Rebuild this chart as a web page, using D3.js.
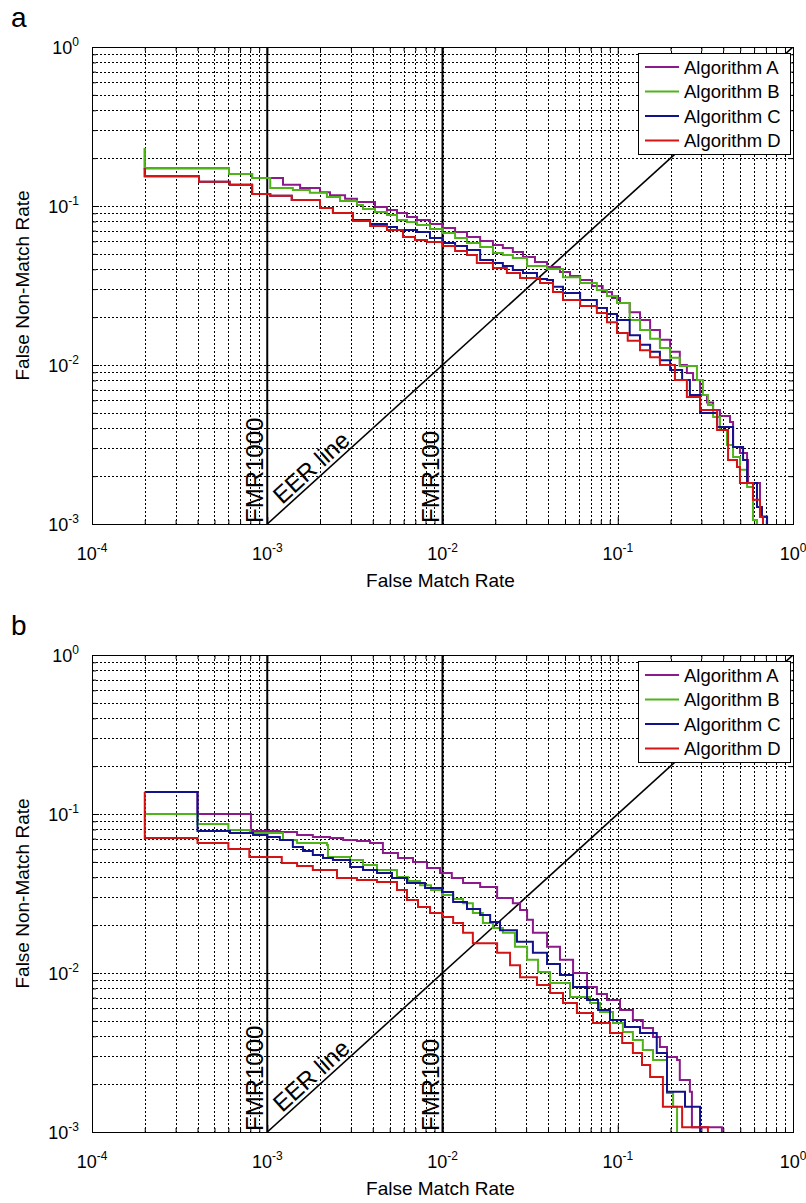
<!DOCTYPE html>
<html>
<head>
<meta charset="utf-8">
<script src="https://cdn.jsdelivr.net/npm/d3@7/dist/d3.min.js"></script>
<style>
  body { margin: 0; background: #fff; }
  svg text { font-family: Arial, "Liberation Sans", Helvetica, sans-serif; fill: #000; }
</style>
</head>
<body>
<svg id="chart" width="806" height="1203"></svg>
<script>
// ---- data: [False Match Rate, False Non-Match Rate] step points ----
const seriesNames = ["Algorithm A", "Algorithm B", "Algorithm C", "Algorithm D"];

const xTickValues = [1e-4, 1e-3, 1e-2, 1e-1, 1];
const xTickExponents = ["-4", "-3", "-2", "-1", "0"];
const yTickValues = [1e-3, 1e-2, 1e-1, 1];
const yTickExponents = ["-3", "-2", "-1", "0"];

const referenceFMR = [1e-3, 1e-2];
const referenceLabels = ["FMR1000", "FMR100"];

// panel a
const algA_a = [[2.0e-4,0.232],[2.0e-4,0.173],[6.05e-4,0.159],[8.2e-4,0.150],[1.23e-3,0.136],[1.54e-3,0.130],[2.0e-3,0.122],[2.28e-3,0.117],[2.78e-3,0.111],[3.25e-3,0.106],[4.12e-3,0.0986],[4.82e-3,0.0944],[5.5e-3,0.0904],[6.27e-3,0.0852],[7.16e-3,0.0817],[8.48e-3,0.0771],[1.0e-2,0.0728],[1.18e-2,0.0686],[1.38e-2,0.0638],[1.64e-2,0.0602],[1.94e-2,0.0569],[2.21e-2,0.0544],[2.52e-2,0.0514],[2.88e-2,0.0478],[3.37e-2,0.0444],[3.95e-2,0.0413],[4.68e-2,0.0385],[5.34e-2,0.0363],[6.1e-2,0.0342],[7.13e-2,0.0314],[8.2e-2,0.0288],[9.27e-2,0.0264],[0.103,0.0245],[0.117,0.0215],[0.134,0.0192],[0.153,0.0166],[0.174,0.0144],[0.199,0.0121],[0.226,0.0100],[0.248,0.0089],[0.269,0.00805],[0.295,0.00648],[0.323,0.0058],[0.350,0.00521],[0.383,0.00478],[0.437,0.00438],[0.455,0.00305],[0.498,0.0028],[0.547,0.00253],[0.554,0.00181],[0.648,0.00111],[0.711,0.00100]];
const algB_a = [[2.0e-4,0.232],[2.0e-4,0.173],[6.05e-4,0.159],[8.2e-4,0.150],[1.04e-3,0.130],[1.40e-3,0.126],[1.75e-3,0.121],[2.19e-3,0.114],[2.6e-3,0.1075],[3.25e-3,0.1014],[3.52e-3,0.0958],[4.12e-3,0.0917],[4.82e-3,0.0878],[5.5e-3,0.0817],[6.27e-3,0.0793],[7.16e-3,0.0760],[8.48e-3,0.0717],[1.0e-2,0.0676],[1.18e-2,0.0629],[1.38e-2,0.0585],[1.64e-2,0.0552],[1.94e-2,0.0506],[2.21e-2,0.0492],[2.52e-2,0.0471],[3.04e-2,0.0420],[3.95e-2,0.0402],[4.87e-2,0.0357],[6.1e-2,0.0328],[7.6e-2,0.0296],[8.68e-2,0.0272],[9.9e-2,0.0245],[0.117,0.0192],[0.134,0.0166],[0.153,0.0146],[0.174,0.0128],[0.199,0.0111],[0.226,0.00986],[0.283,0.00805],[0.306,0.00648],[0.327,0.0056],[0.350,0.00471],[0.383,0.0039],[0.420,0.00314],[0.455,0.00264],[0.498,0.00219],[0.547,0.00171],[0.591,0.00106],[0.623,0.00100]];
const algC_a = [[2.0e-4,0.173],[2.0e-4,0.154],[4.08e-4,0.142],[6.1e-4,0.136],[8.2e-4,0.119],[1.04e-3,0.116],[1.38e-3,0.109],[2.0e-3,0.097],[2.37e-3,0.0904],[3.08e-3,0.0817],[3.86e-3,0.0771],[4.82e-3,0.0738],[5.5e-3,0.0707],[7.16e-3,0.0686],[8.48e-3,0.0629],[1.0e-2,0.0585],[1.18e-2,0.0560],[1.38e-2,0.0528],[1.64e-2,0.0457],[1.94e-2,0.0438],[2.21e-2,0.0420],[2.52e-2,0.0396],[2.88e-2,0.0379],[3.46e-2,0.0347],[3.95e-2,0.0342],[4.27e-2,0.0310],[4.87e-2,0.0284],[6.1e-2,0.0256],[7.6e-2,0.0228],[8.68e-2,0.0209],[9.9e-2,0.0192],[0.117,0.0154],[0.134,0.0134],[0.153,0.0121],[0.174,0.0107],[0.199,0.0093],[0.233,0.00805],[0.258,0.00648],[0.295,0.00499],[0.369,0.00407],[0.455,0.00305],[0.519,0.00253],[0.547,0.00181],[0.623,0.00128],[0.665,0.00111],[0.711,0.00100]];
const algD_a = [[2.0e-4,0.173],[2.0e-4,0.154],[4.08e-4,0.142],[6.1e-4,0.136],[8.2e-4,0.119],[1.04e-3,0.116],[1.38e-3,0.109],[2.0e-3,0.097],[2.37e-3,0.0904],[3.08e-3,0.0805],[3.86e-3,0.0749],[4.82e-3,0.0707],[5.95e-3,0.0638],[6.97e-3,0.0611],[8.16e-3,0.0594],[1.0e-2,0.0560],[1.18e-2,0.0521],[1.38e-2,0.0492],[1.57e-2,0.0438],[1.94e-2,0.0407],[2.33e-2,0.0379],[2.77e-2,0.0352],[3.6e-2,0.0328],[4.27e-2,0.0288],[4.87e-2,0.0256],[6.1e-2,0.0235],[7.6e-2,0.0212],[8.68e-2,0.0186],[9.9e-2,0.0159],[0.114,0.0142],[0.134,0.0124],[0.153,0.0112],[0.174,0.0100],[0.212,0.00805],[0.248,0.0063],[0.295,0.00521],[0.369,0.0039],[0.426,0.00253],[0.479,0.00228],[0.498,0.00181],[0.591,0.00142],[0.648,0.00111],[0.674,0.00100]];

// panel b
const algA_b = [[2.0e-4,0.1376],[4.0e-4,0.1000],[8.07e-4,0.0782],[1.18e-3,0.0771],[1.48e-3,0.0738],[1.82e-3,0.0717],[2.28e-3,0.0707],[2.71e-3,0.0686],[3.25e-3,0.0676],[3.86e-3,0.0657],[4.57e-3,0.0568],[5.57e-3,0.0529],[6.79e-3,0.0499],[8.16e-3,0.0458],[9.68e-3,0.0425],[1.13e-2,0.0396],[1.31e-2,0.0368],[1.64e-2,0.0347],[2.05e-2,0.0296],[2.52e-2,0.0275],[2.77e-2,0.0249],[3.04e-2,0.0216],[3.28e-2,0.0179],[3.95e-2,0.0146],[4.68e-2,0.0121],[5.56e-2,0.0100],[6.68e-2,0.00817],[7.6e-2,0.00738],[8.68e-2,0.00676],[0.103,0.00585],[0.122,0.00506],[0.139,0.00451],[0.159,0.00396],[0.174,0.00343],[0.191,0.00296],[0.218,0.00284],[0.226,0.00212],[0.258,0.00179],[0.265,0.00107],[0.393,0.00100]];
const algB_b = [[2.0e-4,0.1000],[4.0e-4,0.0865],[6.0e-4,0.0793],[7.97e-4,0.0760],[1.23e-3,0.0686],[1.48e-3,0.0657],[2.19e-3,0.0638],[2.22e-3,0.0537],[2.97e-3,0.0514],[3.52e-3,0.0478],[4.23e-3,0.0444],[5.50e-3,0.0402],[6.36e-3,0.0379],[7.44e-3,0.0357],[8.6e-3,0.0333],[9.94e-3,0.0309],[1.15e-2,0.0292],[1.31e-2,0.0275],[1.49e-2,0.0238],[1.70e-2,0.0206],[1.94e-2,0.0192],[2.21e-2,0.0179],[2.59e-2,0.0146],[3.04e-2,0.0121],[3.51e-2,0.01015],[4.11e-2,0.00865],[5.34e-2,0.00706],[6.95e-2,0.00648],[7.92e-2,0.00568],[9.39e-2,0.00485],[0.107,0.00426],[0.122,0.00379],[0.139,0.00328],[0.159,0.00284],[0.191,0.00176],[0.207,0.00144],[0.218,0.00100]];
const algC_b = [[2.0e-4,0.1376],[4.0e-4,0.0782],[6.13e-4,0.0760],[8.3e-4,0.0738],[1.0e-3,0.0717],[1.18e-3,0.0686],[1.40e-3,0.0620],[1.6e-3,0.0585],[1.82e-3,0.0552],[2.08e-3,0.0529],[2.37e-3,0.0514],[2.97e-3,0.0464],[3.52e-3,0.0444],[4.23e-3,0.0425],[5.15e-3,0.0396],[6.27e-3,0.0368],[7.95e-3,0.0342],[9.94e-3,0.0323],[1.15e-2,0.0280],[1.38e-2,0.0253],[1.64e-2,0.0232],[1.87e-2,0.0209],[2.13e-2,0.0186],[2.66e-2,0.0157],[3.28e-2,0.0134],[3.95e-2,0.0114],[4.68e-2,0.0097],[5.56e-2,0.00817],[6.68e-2,0.00676],[7.72e-2,0.00585],[9.03e-2,0.00506],[0.110,0.00458],[0.134,0.00419],[0.167,0.00314],[0.191,0.00179],[0.242,0.00144],[0.295,0.00100]];
const algD_b = [[2.0e-4,0.1376],[2.0e-4,0.0707],[4.0e-4,0.0657],[6.0e-4,0.0602],[7.9e-4,0.0537],[1.21e-3,0.0492],[1.48e-3,0.0471],[1.82e-3,0.0444],[2.50e-3,0.0396],[3.25e-3,0.0385],[4.23e-3,0.0373],[5.50e-3,0.0333],[6.27e-3,0.0288],[7.25e-3,0.0260],[8.49e-3,0.0238],[9.94e-3,0.0225],[1.15e-2,0.0206],[1.31e-2,0.0179],[1.49e-2,0.0154],[2.05e-2,0.0134],[2.43e-2,0.0112],[2.77e-2,0.0094],[3.46e-2,0.0084],[4.11e-2,0.00748],[4.87e-2,0.00648],[5.85e-2,0.00560],[7.22e-2,0.00485],[9.03e-2,0.00419],[0.106,0.00363],[0.122,0.00314],[0.1375,0.00264],[0.153,0.00222],[0.181,0.00144],[0.233,0.00107],[0.327,0.00100]];

// ---- styling ----
const colors = ["#8c1a8c", "#4fb41a", "#12128c", "#d41414"];
const plot = { left: 92, right: 793, height: 477 };
const panels = [
  { letter: "a", top: 47, series: [algA_a, algB_a, algC_a, algD_a] },
  { letter: "b", top: 655, series: [algA_b, algB_b, algC_b, algD_b] }
];

const svg = d3.select("#chart");

// every 1..9 x 10^k inside a decade range
function logSteps(fromExp, toExp) {
  const out = [];
  for (let k = fromExp; k < toExp; k++)
    for (let m = 1; m <= 9; m++) out.push(+(m * Math.pow(10, k)).toPrecision(3));
  out.push(Math.pow(10, toExp));
  return out;
}

function supText(g, x, y, exp, anchor) {
  const t = g.append("text").attr("x", x).attr("y", y)
    .attr("font-size", 18).attr("text-anchor", anchor);
  t.append("tspan").text("10");
  t.append("tspan").attr("dy", -8).attr("font-size", 12).text(exp);
}

panels.forEach((p, pi) => {
  const top = p.top, bottom = top + plot.height;
  const x = d3.scaleLog().domain([1e-4, 1]).range([plot.left, plot.right]);
  const y = d3.scaleLog().domain([1e-3, 1]).range([bottom, top]);
  const g = svg.append("g");

  const clipId = "clip" + pi;
  g.append("clipPath").attr("id", clipId).append("rect")
    .attr("x", plot.left).attr("y", top)
    .attr("width", plot.right - plot.left).attr("height", plot.height);

  // dotted grid
  const xGrid = logSteps(-4, 0).filter(v => v > 1e-4 && v < 1);
  const yGrid = logSteps(-3, 0).filter(v => v > 1e-3 && v < 1);
  const grid = g.append("g").attr("stroke", "#000").attr("stroke-width", 1)
    .attr("stroke-dasharray", "2,2");
  grid.selectAll(".gx").data(xGrid).join("line")
    .attr("x1", d => Math.round(x(d)) + 0.5).attr("x2", d => Math.round(x(d)) + 0.5)
    .attr("y1", top).attr("y2", bottom);
  grid.selectAll(".gy").data(yGrid).join("line")
    .attr("y1", d => Math.round(y(d)) + 0.5).attr("y2", d => Math.round(y(d)) + 0.5)
    .attr("x1", plot.left).attr("x2", plot.right);

  // inward ticks on all four sides
  const xMinor = logSteps(-4, 0).filter(v => !xTickValues.includes(v));
  const yMinor = logSteps(-3, 0).filter(v => !yTickValues.includes(v));
  const tickAxes = [
    [d3.axisBottom(x), `translate(0,${bottom})`, xTickValues, xMinor],
    [d3.axisTop(x), `translate(0,${top})`, xTickValues, xMinor],
    [d3.axisLeft(y), `translate(${plot.left},0)`, yTickValues, yMinor],
    [d3.axisRight(y), `translate(${plot.right},0)`, yTickValues, yMinor]
  ];
  tickAxes.forEach(([axis, tr, major, minor]) => {
    const a1 = g.append("g").attr("transform", tr)
      .call(axis.tickValues(major).tickSize(-7).tickSizeOuter(0).tickFormat(""));
    a1.select(".domain").remove();
    const a2 = g.append("g").attr("transform", tr)
      .call(axis.tickValues(minor).tickSize(-4).tickSizeOuter(0).tickFormat(""));
    a2.select(".domain").remove();
  });

  // frame
  g.append("rect").attr("x", plot.left + 0.5).attr("y", top + 0.5)
    .attr("width", plot.right - plot.left).attr("height", plot.height)
    .attr("fill", "none").attr("stroke", "#000").attr("stroke-width", 1);

  // tick labels
  xTickValues.forEach((v, i) => supText(g, x(v), bottom + 36, xTickExponents[i], "middle"));
  yTickValues.forEach((v, i) => supText(g, 79, y(v) + 6.5, yTickExponents[i], "end"));

  const inner = g.append("g").attr("clip-path", `url(#${clipId})`);

  // FMR reference lines
  referenceFMR.forEach((v, i) => {
    inner.append("line").attr("x1", x(v)).attr("x2", x(v))
      .attr("y1", top).attr("y2", bottom)
      .attr("stroke", "#000").attr("stroke-width", 2);
    g.append("text").attr("font-size", 24)
      .attr("transform", `translate(${x(v) - 4},${bottom - 1}) rotate(-90)`)
      .text(referenceLabels[i]);
  });

  // EER line (FMR = FNMR)
  const eer = [[1e-3, 1e-3], [1, 1]];
  inner.append("path")
    .attr("d", d3.line().x(d => x(d[0])).y(d => y(d[1]))(eer))
    .attr("fill", "none").attr("stroke", "#000").attr("stroke-width", 1.6);
  const ang = Math.atan2(y(1) - y(1e-3), x(1) - x(1e-3)) * 180 / Math.PI;
  const eerAt = 1.26e-3;
  g.append("text").attr("font-size", 24)
    .attr("transform", `translate(${x(eerAt)},${y(eerAt)}) rotate(${ang})`)
    .attr("dy", -4)
    .text("EER line");

  // DET curves
  const line = d3.line().x(d => x(d[0])).y(d => y(d[1])).curve(d3.curveStepAfter);
  p.series.forEach((s, i) => {
    inner.append("path").attr("d", line(s))
      .attr("fill", "none").attr("stroke", colors[i]).attr("stroke-width", 2)
      .attr("stroke-linejoin", "miter");
  });

  // legend
  const lg = g.append("g");
  lg.append("rect").attr("x", 638.5).attr("y", top + 6.5)
    .attr("width", 152).attr("height", 101)
    .attr("fill", "#fff").attr("stroke", "#000").attr("stroke-width", 1);
  seriesNames.forEach((name, i) => {
    const ly = top + 20 + i * 24.5;
    lg.append("line").attr("x1", 645).attr("x2", 679).attr("y1", ly).attr("y2", ly)
      .attr("stroke", colors[i]).attr("stroke-width", 2);
    lg.append("text").attr("x", 684).attr("y", ly).attr("dy", "0.36em")
      .attr("font-size", 18.5).text(name);
  });

  // axis titles
  g.append("text").attr("font-size", 19).attr("text-anchor", "middle")
    .attr("x", (plot.left + plot.right) / 2 - 2).attr("y", bottom + 63)
    .text("False Match Rate");
  g.append("text").attr("font-size", 19).attr("text-anchor", "middle")
    .attr("transform", `translate(29,${(top + bottom) / 2}) rotate(-90)`)
    .text("False Non-Match Rate");

  // panel letter
  g.append("text").attr("font-size", 28).attr("x", 11).attr("y", top - 20)
    .text(p.letter);
});
</script>
</body>
</html>
